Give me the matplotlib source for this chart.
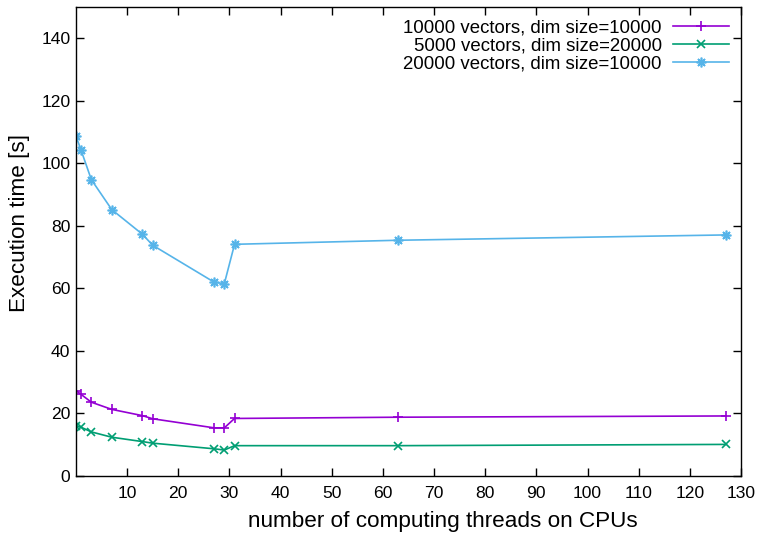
import matplotlib
matplotlib.use("Agg")
import matplotlib.pyplot as plt

plt.rcParams["font.family"] = ["Liberation Sans", "DejaVu Sans"]

# thread counts (axis is offset by one) and run times in seconds
threads = [0, 1, 3, 7, 13, 15, 27, 29, 31, 63, 127]
t_10k_10k = [27.3, 26.1, 23.6, 21.3, 19.3, 18.3, 15.4, 15.4, 18.4, 18.8, 19.2]
t_5k_20k = [16.1, 15.6, 14.1, 12.4, 11.0, 10.5, 8.7, 8.3, 9.7, 9.7, 10.1]
t_20k_10k = [108.7, 104.2, 94.8, 85.2, 77.3, 73.8, 62.0, 61.5, 74.1, 75.4, 77.1]

labels = ["10000 vectors, dim size=10000",
          "5000 vectors, dim size=20000",
          "20000 vectors, dim size=10000"]

fig = plt.figure(figsize=(7.62, 5.35), dpi=100)
ax = fig.add_axes([0.0997, 0.1103, 0.8727, 0.8766])

ax.plot(threads, t_10k_10k, color="#9400D3", lw=1.2, marker="+", ms=7, mew=1.2, label=labels[0])
ax.plot(threads, t_5k_20k, color="#009E73", lw=1.2, marker="x", ms=6, mew=1.2, label=labels[1])
ax.plot(threads, t_20k_10k, color="#56B4E9", lw=1.2, marker=(8, 2, 0), ms=7, mew=1.2, label=labels[2])

ax.set_xlim(0, 130)
ax.set_ylim(0, 150)
ax.set_xticks(range(10, 131, 10))
ax.set_yticks(range(0, 141, 20))
ax.tick_params(direction="in", length=6, width=1, top=True, right=True, labelsize=12.6, pad=4)
ax.tick_params(axis="x", pad=7)
for s in ax.spines.values():
    s.set_linewidth(1)

ax.set_xlabel("number of computing threads on CPUs", fontsize=16.2)
ax.xaxis.set_label_coords(0.551, -0.075)
ax.set_ylabel("Execution time [s]", fontsize=16.2)
ax.yaxis.set_label_coords(-0.069, 0.5405)

ax.legend(loc="upper right", frameon=False, markerfirst=False, fontsize=13.4,
          handlelength=3.0, handletextpad=0.6, labelspacing=0.05,
          borderaxespad=0.25)

fig.savefig("out.png", dpi=100)
